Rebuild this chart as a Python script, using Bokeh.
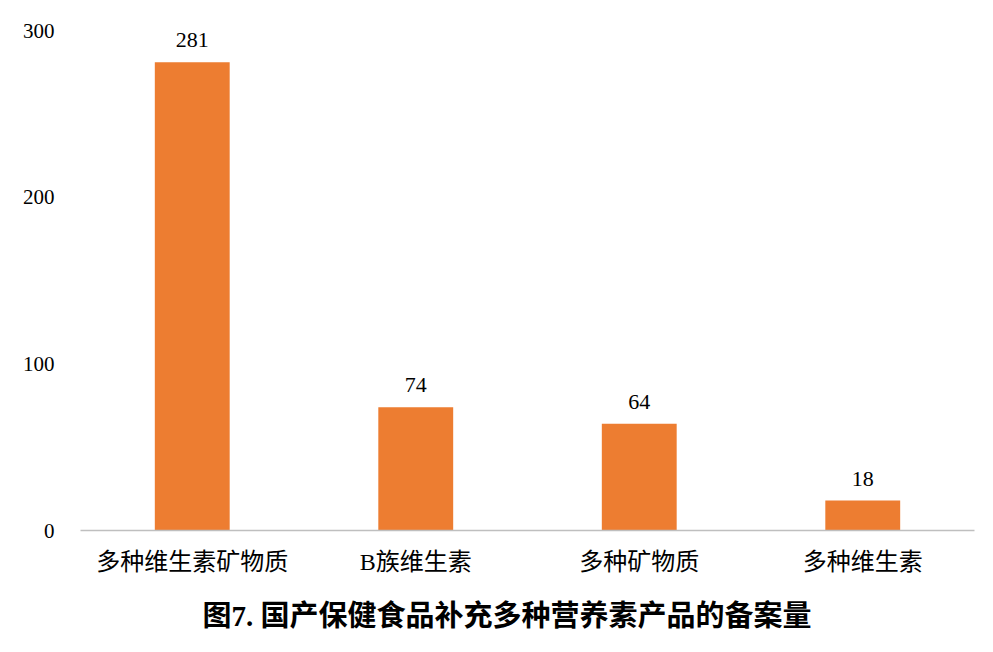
from bokeh.plotting import figure
from bokeh.models import ColumnDataSource, Title
from bokeh.core.properties import value
from bokeh.embed import file_html
from bokeh.resources import INLINE

# Filing counts of domestic multi-nutrient supplement products
categories = ["多种维生素矿物质", "B族维生素", "多种矿物质", "多种维生素"]
counts = [281, 74, 64, 18]
y_ticks = [0, 100, 200, 300]
title_text = "图7. 国产保健食品补充多种营养素产品的备案量"

FONT = "'Times New Roman', 'Liberation Serif', 'Noto Sans CJK SC', serif"
BAR_COLOR = "#ED7D31"

src = ColumnDataSource(dict(cat=categories, n=counts, lbl=[str(v) for v in counts]))

p = figure(
    x_range=categories, y_range=(0, 300),
    width=993, height=652,
    output_backend="svg", toolbar_location=None,
    min_border_left=80, min_border_right=19,
    min_border_top=30, min_border_bottom=25,
)
p.outline_line_color = None
p.background_fill_color = "white"
p.border_fill_color = "white"
p.xgrid.grid_line_color = None
p.ygrid.grid_line_color = None

p.vbar(x="cat", top="n", width=0.335, source=src, color=BAR_COLOR, line_color=None)

p.text(x="cat", y="n", text="lbl", source=src,
       text_font=value(FONT), text_font_size="22px", text_color="#000000",
       text_align="center", text_baseline="bottom", y_offset=-15)

# y axis: labels only
p.yaxis.ticker = y_ticks
p.yaxis.axis_line_color = None
p.yaxis.major_tick_line_color = None
p.yaxis.minor_tick_line_color = None
p.yaxis.major_label_standoff = 20
p.yaxis.major_label_text_font = FONT
p.yaxis.major_label_text_font_size = "21px"
p.yaxis.major_label_text_color = "#000000"

# x axis: baseline plus category labels
p.xaxis.axis_line_color = "#BFBFBF"
p.xaxis.axis_line_width = 1.5
p.xaxis.major_tick_line_color = None
p.xaxis.minor_tick_line_color = None
p.xaxis.major_label_standoff = 12
p.xaxis.major_label_text_font = FONT
p.xaxis.major_label_text_font_size = "24px"
p.xaxis.major_label_text_color = "#000000"

# caption below the chart
p.add_layout(Title(
    text=title_text, align="left", offset=122, standoff=41,
    text_font=FONT, text_font_size="29px", text_font_style="bold",
    text_color="#000000",
), "below")

open("out.html", "w").write(file_html(p, INLINE))
